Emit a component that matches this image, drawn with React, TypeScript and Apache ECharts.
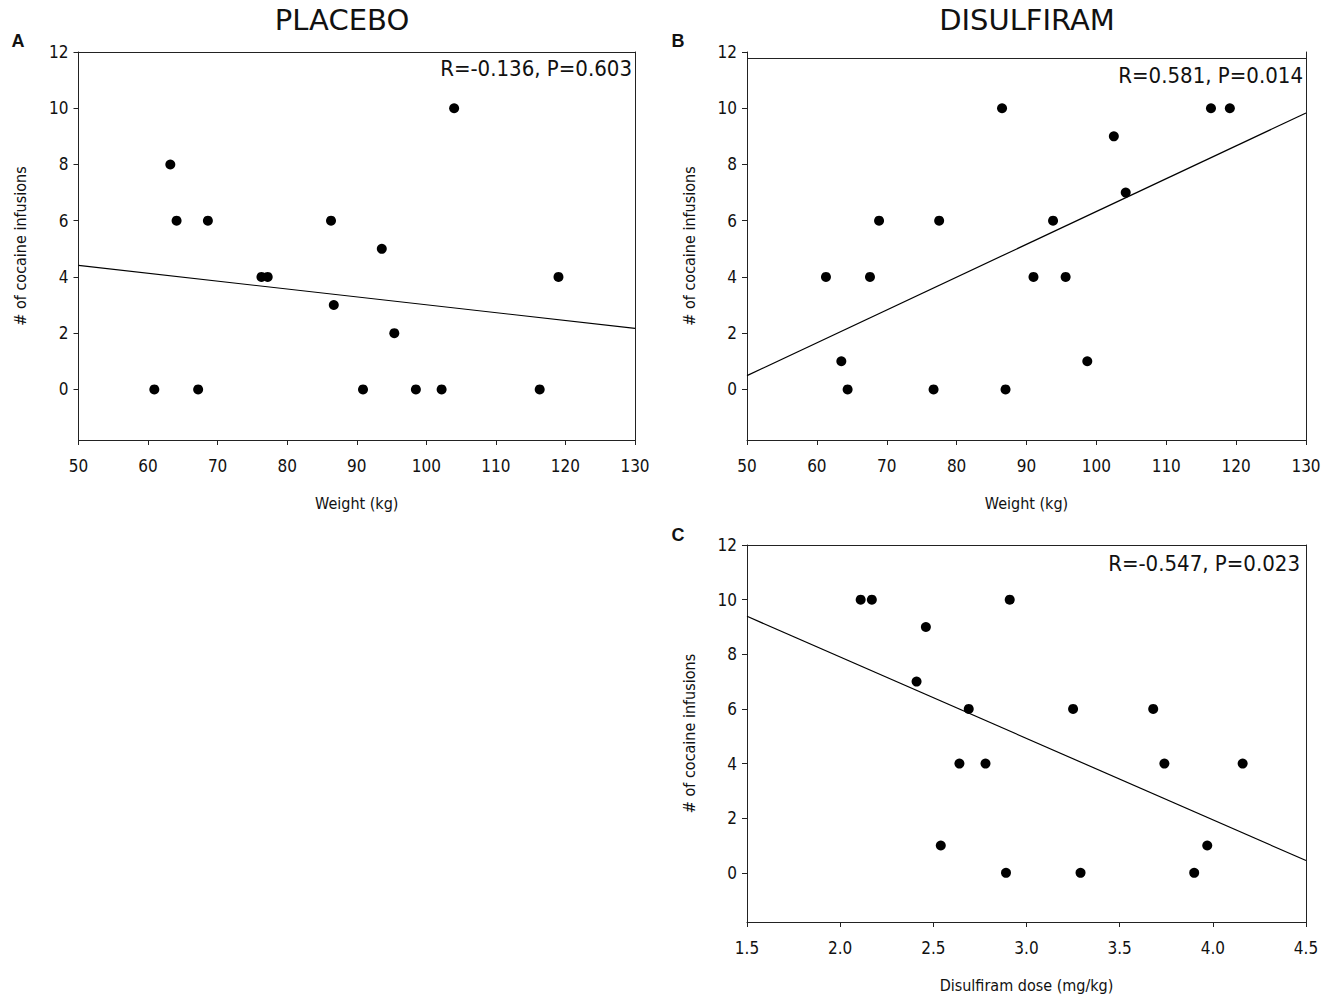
import React, { useEffect, useRef } from "react";
import * as echarts from "echarts";

// Panel A: placebo
const placeboWeight = [60.9, 63.2, 64.1, 67.2, 68.6, 76.3, 77.2, 86.3, 86.7, 90.9, 93.6, 95.4, 98.5, 102.2, 104.0, 116.3, 119.0];
const placeboInfusions = [0, 8, 6, 0, 6, 4, 4, 6, 3, 0, 5, 2, 0, 0, 10, 0, 4];
const placeboFitX = [50, 130];
const placeboFitY = [4.41, 2.17];

// Panel B: disulfiram vs weight
const disulfiramWeight = [61.3, 63.5, 64.4, 67.6, 68.9, 76.7, 77.5, 86.5, 87.0, 91.0, 93.8, 95.6, 98.7, 102.5, 104.2, 116.4, 119.1];
const disulfiramInfusions = [4, 1, 0, 4, 6, 0, 6, 10, 0, 4, 6, 4, 1, 9, 7, 10, 10];
const disulfiramFitX = [50, 130];
const disulfiramFitY = [0.49, 9.83];
const disulfiramTopLine = 11.77;

// Panel C: disulfiram dose
const doseValues = [2.11, 2.17, 2.41, 2.46, 2.54, 2.64, 2.69, 2.78, 2.89, 2.91, 3.25, 3.29, 3.68, 3.74, 3.9, 3.97, 4.16];
const doseInfusions = [10, 10, 7, 9, 1, 4, 6, 4, 0, 10, 6, 0, 6, 4, 0, 1, 4];
const doseFitX = [1.5, 4.5];
const doseFitY = [9.39, 0.45];

const titles = ["PLACEBO", "DISULFIRAM"];
const panelLetters = ["A", "B", "C"];
const statsText = ["R=-0.136, P=0.603", "R=0.581, P=0.014", "R=-0.547, P=0.023"];
const yName = "# of cocaine infusions";
const xNames = ["Weight (kg)", "Weight (kg)", "Disulfiram dose (mg/kg)"];

const FONT = "'DejaVu Sans Condensed', 'Liberation Sans Narrow', 'DejaVu Sans', sans-serif";
const AXIS_COLOR = "#222";
const TEXT_COLOR = "#111";

const zip = (xs: number[], ys: number[]) => xs.map((x, i) => [x, ys[i]]);

function mainX(gridIndex: number, min: number, max: number, interval: number, name: string, decimals: number) {
  return {
    type: "value",
    gridIndex,
    min,
    max,
    interval,
    position: "bottom",
    name,
    nameLocation: "middle",
    nameGap: 55,
    nameTextStyle: { fontFamily: FONT, fontSize: 16, color: TEXT_COLOR },
    axisLine: { show: true, onZero: false, lineStyle: { color: AXIS_COLOR, width: 1 } },
    axisTick: { show: true, inside: false, length: 5, lineStyle: { color: AXIS_COLOR } },
    axisLabel: {
      fontFamily: FONT,
      fontSize: 17,
      color: TEXT_COLOR,
      margin: 17,
      formatter: (v: number) => v.toFixed(decimals),
    },
    splitLine: { show: false },
  };
}

function topX(gridIndex: number, min: number, max: number) {
  return {
    type: "value",
    gridIndex,
    min,
    max,
    position: "top",
    axisLine: { show: true, onZero: false, lineStyle: { color: AXIS_COLOR, width: 1 } },
    axisTick: { show: false },
    axisLabel: { show: false },
    splitLine: { show: false },
  };
}

function mainY(gridIndex: number) {
  return {
    type: "value",
    gridIndex,
    min: -1.8,
    max: 12,
    splitNumber: 7,
    position: "left",
    name: yName,
    nameLocation: "middle",
    nameRotate: 90,
    nameGap: 50,
    nameTextStyle: { fontFamily: FONT, fontSize: 16, color: TEXT_COLOR },
    axisLine: { show: true, onZero: false, lineStyle: { color: AXIS_COLOR, width: 1 } },
    axisTick: { show: true, inside: false, length: 5, lineStyle: { color: AXIS_COLOR } },
    axisLabel: {
      fontFamily: FONT,
      fontSize: 17,
      color: TEXT_COLOR,
      margin: 10,
      showMinLabel: false,
      formatter: (v: number) => (v >= 0 && Math.abs(v - Math.round(v)) < 1e-6 ? String(Math.round(v)) : ""),
    },
    splitLine: { show: false },
  };
}

function rightY(gridIndex: number) {
  return {
    type: "value",
    gridIndex,
    min: -1.8,
    max: 12,
    splitNumber: 7,
    position: "right",
    axisLine: { show: true, onZero: false, lineStyle: { color: AXIS_COLOR, width: 1 } },
    axisTick: { show: false },
    axisLabel: { show: false },
    splitLine: { show: false },
  };
}

function scatter(xIdx: number, yIdx: number, xs: number[], ys: number[], extra: any = {}) {
  return {
    type: "scatter",
    xAxisIndex: xIdx,
    yAxisIndex: yIdx,
    data: zip(xs, ys),
    symbol: "circle",
    symbolSize: 10,
    itemStyle: { color: "#000", opacity: 1 },
    silent: true,
    ...extra,
  };
}

function fitLine(xIdx: number, yIdx: number, xs: number[], ys: number[]) {
  return {
    type: "line",
    xAxisIndex: xIdx,
    yAxisIndex: yIdx,
    data: zip(xs, ys),
    showSymbol: false,
    symbol: "none",
    lineStyle: { color: "#000", width: 1.2 },
    silent: true,
  };
}

function text(x: number, y: number, str: string, size: number, align: string, opts: any = {}) {
  return {
    type: "text",
    x,
    y,
    silent: true,
    style: {
      text: str,
      fontFamily: opts.fontFamily || FONT,
      fontSize: size,
      fontWeight: opts.fontWeight || "normal",
      fill: opts.fill || "#111",
      textAlign: align,
      align,
      textVerticalAlign: "middle",
      verticalAlign: "middle",
    },
  };
}

export default function App() {
  const ref = useRef<HTMLDivElement>(null);

  useEffect(() => {
    document.body.style.margin = "0";
    if (!ref.current) return;
    const chart = echarts.init(ref.current, null, { renderer: "svg" });

    const option: any = {
      animation: false,
      backgroundColor: "#fff",
      grid: [
        { left: 78.5, top: 52, width: 556.5, height: 388 },
        { left: 747, top: 52, width: 559, height: 388 },
        { left: 747, top: 545, width: 559, height: 380 },
      ],
      xAxis: [
        mainX(0, 50, 130, 10, xNames[0], 0),
        topX(0, 50, 130),
        mainX(1, 50, 130, 10, xNames[1], 0),
        mainX(2, 1.5, 4.5, 0.5, xNames[2], 1),
        topX(2, 1.5, 4.5),
      ],
      yAxis: [mainY(0), rightY(0), mainY(1), rightY(1), mainY(2), rightY(2)],
      series: [
        fitLine(0, 0, placeboFitX, placeboFitY),
        scatter(0, 0, placeboWeight, placeboInfusions),
        fitLine(2, 2, disulfiramFitX, disulfiramFitY),
        scatter(2, 2, disulfiramWeight, disulfiramInfusions, {
          markLine: {
            silent: true,
            symbol: "none",
            label: { show: false },
            lineStyle: { color: AXIS_COLOR, width: 1, type: "solid" },
            data: [{ yAxis: disulfiramTopLine }],
          },
        }),
        fitLine(3, 4, doseFitX, doseFitY),
        scatter(3, 4, doseValues, doseInfusions),
      ],
      graphic: [
        text(342, 20, titles[0], 29, "center", { fontFamily: "'DejaVu Sans', sans-serif" }),
        text(1027, 20, titles[1], 29, "center", { fontFamily: "'DejaVu Sans', sans-serif" }),
        text(18, 41, panelLetters[0], 18, "center", { fontWeight: "bold", fontFamily: "'Liberation Sans', Arial, sans-serif" }),
        text(678, 41, panelLetters[1], 18, "center", { fontWeight: "bold", fontFamily: "'Liberation Sans', Arial, sans-serif" }),
        text(678, 535, panelLetters[2], 18, "center", { fontWeight: "bold", fontFamily: "'Liberation Sans', Arial, sans-serif" }),
        text(632, 68, statsText[0], 22, "right"),
        text(1303, 75, statsText[1], 22, "right"),
        text(1300, 563, statsText[2], 22, "right"),
      ],
    };

    chart.setOption(option);
    return () => {
      chart.dispose();
    };
  }, []);

  return <div ref={ref} style={{ width: 1334, height: 994 }} />;
}
